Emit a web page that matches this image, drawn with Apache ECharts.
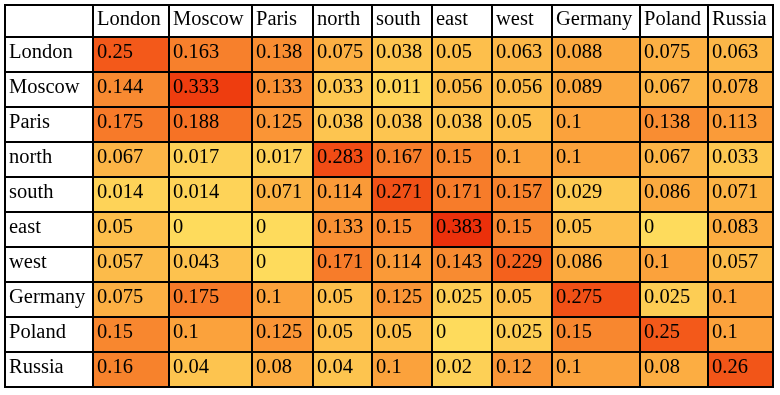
<!DOCTYPE html>
<html>
<head>
<meta charset="utf-8">
<script src="https://cdn.jsdelivr.net/npm/echarts@6/dist/echarts.min.js"></script>
<style>
    html, body { margin: 0; padding: 0; background: #fff; }
    #chart { width: 780px; height: 395px; }
</style>
</head>
<body>
<div id="chart"></div>
<script>
// row and column names (same order on both sides)
var places = ["London", "Moscow", "Paris", "north", "south", "east", "west", "Germany", "Poland", "Russia"];

// one array per row
var rowLondon = [0.25, 0.163, 0.138, 0.075, 0.038, 0.05, 0.063, 0.088, 0.075, 0.063];
var rowMoscow = [0.144, 0.333, 0.133, 0.033, 0.011, 0.056, 0.056, 0.089, 0.067, 0.078];
var rowParis = [0.175, 0.188, 0.125, 0.038, 0.038, 0.038, 0.05, 0.1, 0.138, 0.113];
var rowNorth = [0.067, 0.017, 0.017, 0.283, 0.167, 0.15, 0.1, 0.1, 0.067, 0.033];
var rowSouth = [0.014, 0.014, 0.071, 0.114, 0.271, 0.171, 0.157, 0.029, 0.086, 0.071];
var rowEast = [0.05, 0, 0, 0.133, 0.15, 0.383, 0.15, 0.05, 0, 0.083];
var rowWest = [0.057, 0.043, 0, 0.171, 0.114, 0.143, 0.229, 0.086, 0.1, 0.057];
var rowGermany = [0.075, 0.175, 0.1, 0.05, 0.125, 0.025, 0.05, 0.275, 0.025, 0.1];
var rowPoland = [0.15, 0.1, 0.125, 0.05, 0.05, 0, 0.025, 0.15, 0.25, 0.1];
var rowRussia = [0.16, 0.04, 0.08, 0.04, 0.1, 0.02, 0.12, 0.1, 0.08, 0.26];
var matrix = [rowLondon, rowMoscow, rowParis, rowNorth, rowSouth, rowEast, rowWest, rowGermany, rowPoland, rowRussia];

// layout: column widths (label column first) and row heights (header first), in px
var colWidths = [88, 76, 83, 61, 59, 60, 60, 60, 88, 68, 65];
var rowHeights = [32, 35, 35, 35, 35, 35, 35, 35, 35, 35, 35];

function edges(sizes) {
    var out = [0];
    sizes.forEach(function (s) { out.push(out[out.length - 1] + s); });
    return out;
}
var xEdges = edges(colWidths);
var yEdges = edges(rowHeights);
var totalW = xEdges[xEdges.length - 1];
var totalH = yEdges[yEdges.length - 1];

// header cells: [col, row, text]
var headerData = [[0, 0, ""]];
places.forEach(function (p, i) {
    headerData.push([i + 1, 0, p]);
    headerData.push([0, i + 1, p]);
});
// value cells: [col, row, value]
var cellData = [];
matrix.forEach(function (row, r) {
    row.forEach(function (v, c) {
        cellData.push([c + 1, r + 1, v]);
    });
});

function makeCell(params, api, fill, label) {
    var c = api.value(0), r = api.value(1);
    var p0 = api.coord([xEdges[c], yEdges[r]]);
    var p1 = api.coord([xEdges[c + 1], yEdges[r + 1]]);
    return {
        type: "group",
        children: [{
            type: "rect",
            shape: {x: p0[0], y: p0[1], width: p1[0] - p0[0], height: p1[1] - p0[1]},
            style: {fill: fill, stroke: "#000", lineWidth: 2}
        }, {
            type: "text",
            style: {
                x: p0[0] + 4,
                y: (p0[1] + p1[1]) / 2 - 1.5,
                text: label,
                fill: "#000",
                font: "20.5px 'Liberation Serif', 'Times New Roman', serif",
                verticalAlign: "middle",
                align: "left"
            }
        }]
    };
}

var chart = echarts.init(document.getElementById("chart"));
chart.setOption({
    animation: false,
    backgroundColor: "#fff",
    grid: {left: 5, top: 5, width: totalW, height: totalH},
    xAxis: {type: "value", min: 0, max: totalW, show: false},
    yAxis: {type: "value", min: 0, max: totalH, inverse: true, show: false},
    visualMap: {
        show: false,
        type: "continuous",
        seriesIndex: 1,
        dimension: 2,
        min: 0,
        max: 0.4,
        inRange: {color: ["#FEDB5C", "#FBA23C", "#F56C22", "#F04612", "#EA2C0A"]}
    },
    series: [{
        type: "custom",
        data: headerData,
        renderItem: function (params, api) {
            return makeCell(params, api, "#fff", headerData[params.dataIndex][2]);
        }
    }, {
        type: "custom",
        data: cellData,
        renderItem: function (params, api) {
            return makeCell(params, api, api.visual("color"), String(api.value(2)));
        }
    }]
});
</script>
</body>
</html>
